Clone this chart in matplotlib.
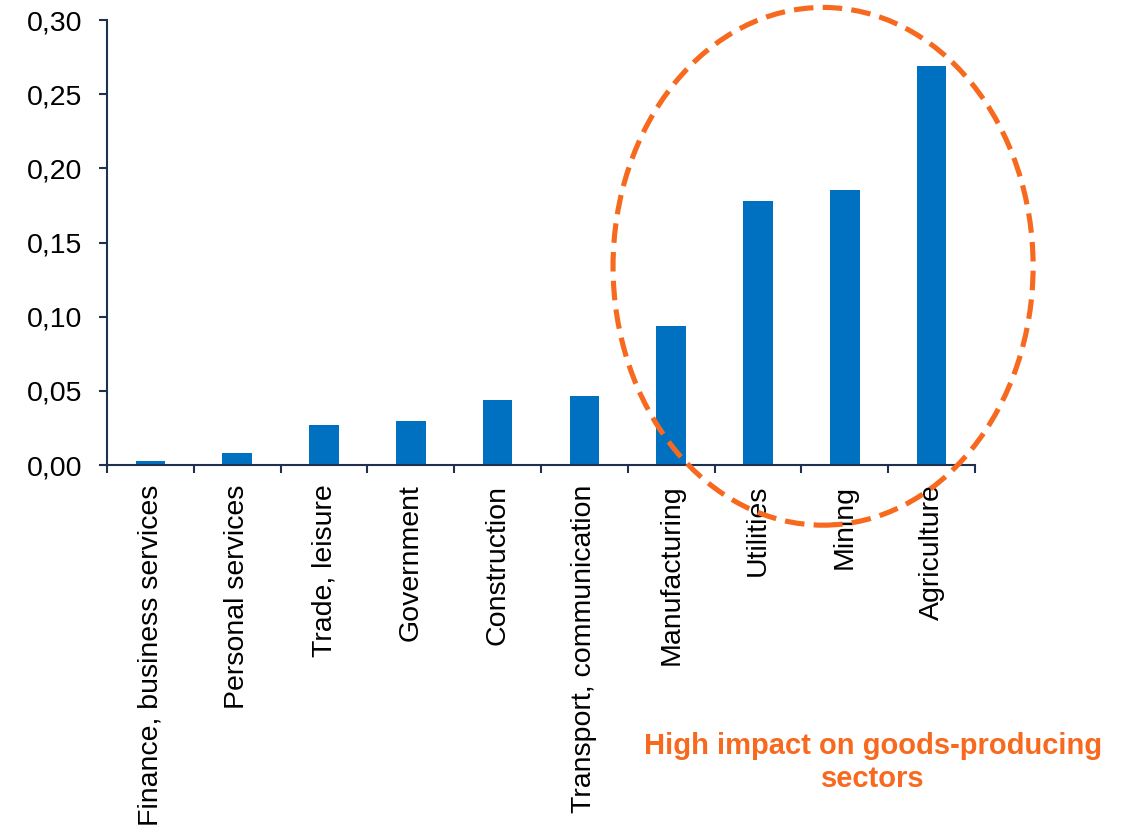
import matplotlib
matplotlib.use("Agg")
import matplotlib.pyplot as plt
from matplotlib.patches import Ellipse
from matplotlib.ticker import FuncFormatter
import numpy as np

plt.rcParams['font.family'] = ['Liberation Sans', 'DejaVu Sans']

## data
sectors = ["Finance, business services", "Personal services", "Trade, leisure",
           "Government", "Construction", "Transport, communication",
           "Manufacturing", "Utilities", "Mining", "Agriculture"]
values = [0.003, 0.008, 0.027, 0.0295, 0.044, 0.0465, 0.094, 0.178, 0.1855, 0.269]

BLUE = "#0070C0"
ORANGE = "#F7691E"
NAVY = "#1F3050"

fig = plt.figure(figsize=(11.35, 8.35), dpi=100)
ax = fig.add_axes([0.0943, 0.443, 0.7647, 0.533])

x = np.arange(len(sectors))
ax.bar(x, values, width=0.34, color=BLUE, zorder=2)

ax.set_xlim(-0.5, len(sectors) - 0.5)
ax.set_ylim(0, 0.30)
ax.set_yticks(np.arange(0, 0.301, 0.05))
ax.yaxis.set_major_formatter(FuncFormatter(lambda v, p: ("%.2f" % v).replace(".", ",")))

## labels at centers, ticks at boundaries
ax.set_xticks(x)
ax.set_xticklabels(sectors, rotation=90, fontsize=20.5)
ax.set_xticks(np.arange(-0.5, len(sectors)), minor=True)
ax.tick_params(axis="x", which="major", length=0, pad=14)
ax.tick_params(axis="x", which="minor", length=6, width=1.5, color=NAVY, direction="out")
ax.tick_params(axis="y", length=6, width=1.5, color=NAVY, labelsize=20.5, pad=12)

for s in ["top", "right"]:
    ax.spines[s].set_visible(False)
for s in ["left", "bottom"]:
    ax.spines[s].set_color(NAVY)
    ax.spines[s].set_linewidth(1.5)

## highlight ellipse
ell = Ellipse((7.75, 0.134), 4.84, 0.349, fill=False, edgecolor=ORANGE,
              linewidth=3.7, linestyle=(0, (3.8, 1.8)), clip_on=False, zorder=5)
ax.add_patch(ell)

fig.text(0.769, 0.087, "High impact on goods-producing\nsectors", color=ORANGE,
         fontsize=21, fontweight="bold", ha="center", va="center", linespacing=1.25)

fig.savefig("out.png", dpi=100)
